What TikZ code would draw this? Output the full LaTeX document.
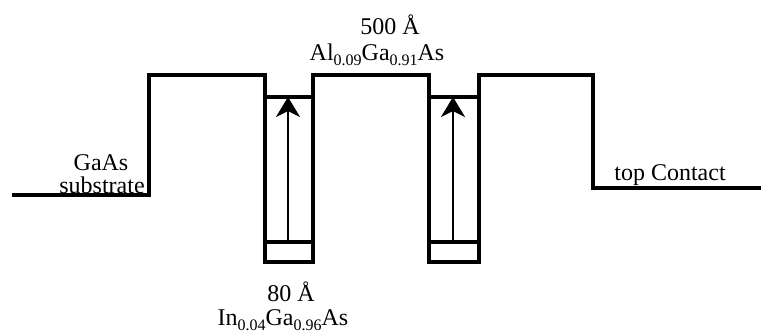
\documentclass[tikz,border=0pt]{standalone}
\usepackage{fontspec}
\setmainfont{Liberation Serif}
\usetikzlibrary{positioning,arrows.meta}
\newcommand{\subx}[1]{\raisebox{-0.45ex}{\fontsize{8pt}{9pt}\selectfont #1}}

\begin{document}
\begin{tikzpicture}[x=0.5pt,y=-0.5pt,line width=1.8pt,
    every node/.style={font=\fontsize{12pt}{14pt}\selectfont},
    level/.style={line width=1.8pt},
    jump/.style={-{Stealth[length=10pt,width=12pt,inset=3pt]},line width=1.4pt}]
  \useasboundingbox (0,0) rectangle (761,333);

  % band profile
  \draw[line join=miter] (12,195) -- (149,195) -- (149,75) -- (265,75)
    -- (265,262) -- (313,262) -- (313,75) -- (429,75)
    -- (429,262) -- (479,262) -- (479,75) -- (593,75)
    -- (593,188) -- (761,188);

  % levels in the wells
  \coordinate (e1) at (288,242);
  \coordinate (h1) at (288,97);
  \coordinate (e2) at (453,242);
  \coordinate (h2) at (453,97);
  \draw[level] (265,97) -- (313,97);
  \draw[level] (265,242) -- (313,242);
  \draw[level] (429,97) -- (479,97);
  \draw[level] (429,242) -- (479,242);
  \draw[jump] (e1) -- (h1);
  \draw[jump] (e2) -- (h2);

  % labels
  \node (gaas) at (101,163) {GaAs};
  \node (subs) at (102,185) {substrate};

  \node (barrier) at (377,55) {Al\subx{0.09}Ga\subx{0.91}As};
  \node (barrierw) at (390,25) {500 Å};

  \node (well) at (283,320) {In\subx{0.04}Ga\subx{0.96}As};
  \node (wellw) at (291,292) {80 Å};

  \node (top) at (670,175) {top Contact};
\end{tikzpicture}
\end{document}
